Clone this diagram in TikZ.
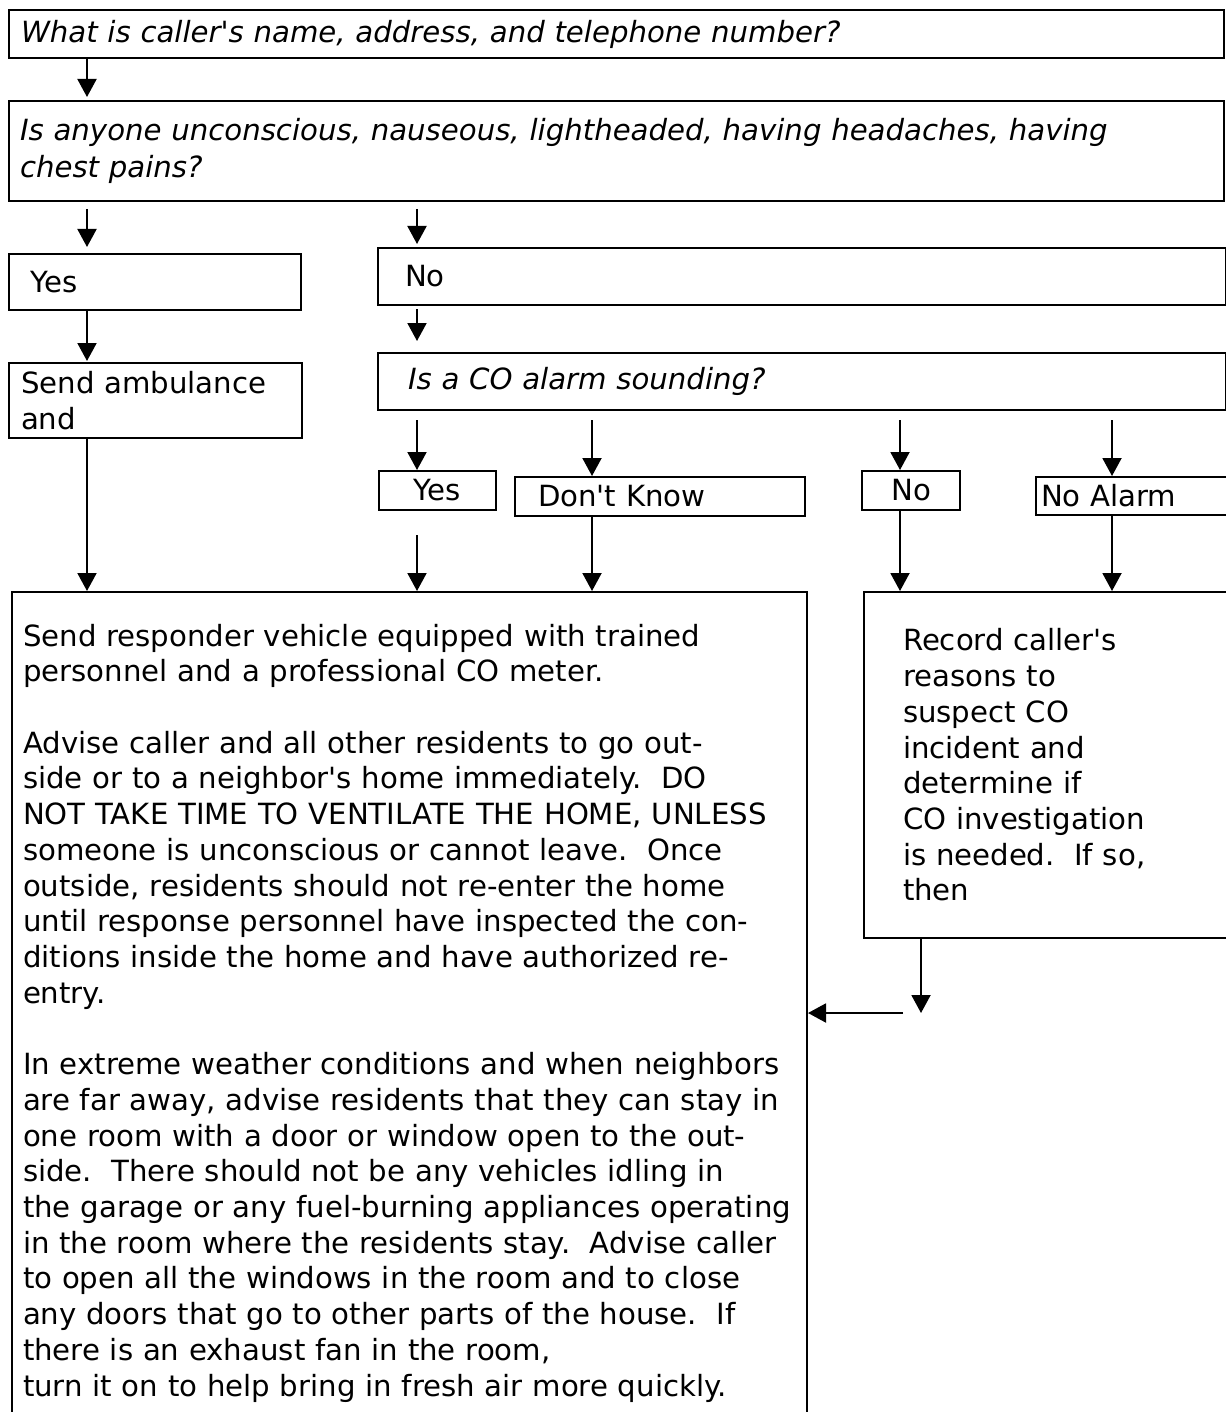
\documentclass[tikz,border=0pt]{standalone}
\usepackage{fontspec}
\setmainfont{DejaVu Sans}[Ligatures=TeXOff]
\usepackage{tikz}
\usetikzlibrary{arrows.meta}
\tikzset{
  box/.style={draw, rectangle, line width=1pt, anchor=north west, align=left, inner ysep=0pt, font=\fontsize{14.6}{17.86}\selectfont\frenchspacing},
  question/.style={box, font=\fontsize{14.6}{18.4}\selectfont\itshape\frenchspacing},
  tag/.style={box, align=center, inner xsep=0pt},
  arrow/.style={-{Triangle[length=9pt,width=9.5pt]}, line width=1pt}
}

\begin{document}
\begin{tikzpicture}[x=0.5pt,y=-0.5pt]
  \useasboundingbox (0,0) rectangle (1225,1412);
  % columns of the arrows
  \coordinate (colA) at (87,0);
  \coordinate (colB) at (417,0);
  \coordinate (colC) at (592,0);
  \coordinate (colD) at (900,0);
  \coordinate (colE) at (1112,0);
  \coordinate (colF) at (921,0);
  \node[question,text width=595.5pt,inner xsep=6pt,minimum height=24pt] (caller) at (8,9) {What is caller's name, address, and telephone number?};
  \node[question,text width=596.5pt,inner xsep=5.5pt,minimum height=50pt] (symptoms) at (8,100) {Is anyone unconscious, nauseous, lightheaded, having headaches, having\\chest pains?};
  \node[box,text width=124pt,inner xsep=11pt,minimum height=28pt] (yesA) at (8,253) {Yes};
  \node[box,text width=397pt,inner xsep=13.5pt,minimum height=28.5pt] (noA) at (377,247) {No};
  \node[box,text width=134.5pt,inner xsep=6pt,minimum height=37.5pt] (amb) at (8,362) {Send ambulance\\and};
  \node[question,text width=394pt,inner xsep=15pt,minimum height=28.5pt] (alarm) at (377,352) {Is a CO alarm sounding?};
  \node[tag,minimum width=58.5pt,minimum height=19.5pt] (yesB) at (378,470) {Yes};
  \node[box,text width=122pt,inner xsep=11.5pt,minimum height=19.5pt] (dk) at (514,476) {Don't Know};
  \node[tag,minimum width=49pt,minimum height=19.5pt] (noB) at (861,470) {No};
  \node[box,text width=91.5pt,inner xsep=2.5pt,minimum height=19pt] (noalarm) at (1035,476) {No Alarm};
  \node[box,text width=386.5pt,inner xsep=5.5pt,minimum height=421pt] (big) at (11,591) {Send responder vehicle equipped with trained\\
    personnel and a professional CO meter.\\[17.86pt]
    Advise caller and all other residents to go out-\\
    side or to a neighbor's home immediately.~ DO\\
    NOT TAKE TIME TO VENTILATE THE HOME, UNLESS\\
    someone is unconscious or cannot leave.~ Once\\
    outside, residents should not re-enter the home\\
    until response personnel have inspected the con-\\
    ditions inside the home and have authorized re-\\
    entry.\\[17.86pt]
    In extreme weather conditions and when neighbors\\
    are far away, advise residents that they can stay in\\
    one room with a door or window open to the out-\\
    side.~ There should not be any vehicles idling in\\
    the garage or any fuel-burning appliances operating\\
    in the room where the residents stay.~ Advise caller\\
    to open all the windows in the room and to close\\
    any doors that go to other parts of the house.~ If\\
    there is an exhaust fan in the room,\\
    turn it on to help bring in fresh air more quickly.};
  \node[box,text width=143.5pt,inner xsep=19.5pt,minimum height=173pt] (rec) at (863,591) {Record caller's\\reasons to\\suspect CO\\incident and\\determine if\\CO investigation\\is needed.~ If so,\\then};
  \coordinate (recEnd) at (921,1013);
  \coordinate (backStart) at (903,1013);
  \draw[arrow,shorten >=1.5pt] (colA |- caller.south) -- (colA |- symptoms.north);
  \draw[arrow,shorten <=3.5pt,shorten >=3pt] (colA |- symptoms.south) -- (colA |- yesA.north);
  \draw[arrow,shorten <=3.5pt,shorten >=1.5pt] (colB |- symptoms.south) -- (colB |- noA.north);
  \draw[arrow,shorten >=0.5pt] (colA |- yesA.south) -- (colA |- amb.north);
  \draw[arrow,shorten <=1.5pt,shorten >=5.5pt] (colB |- noA.south) -- (colB |- alarm.north);
  \draw[arrow,shorten <=4.5pt] (colB |- alarm.south) -- (colB |- yesB.north);
  \draw[arrow,shorten <=4.5pt] (colC |- alarm.south) -- (colC |- dk.north);
  \draw[arrow,shorten <=4.5pt] (colD |- alarm.south) -- (colD |- noB.north);
  \draw[arrow,shorten <=4.5pt] (colE |- alarm.south) -- (colE |- noalarm.north);
  \draw[arrow] (colA |- amb.south) -- (colA |- big.north);
  \draw[arrow,shorten <=12pt] (colB |- yesB.south) -- (colB |- big.north);
  \draw[arrow] (colC |- dk.south) -- (colC |- big.north);
  \draw[arrow] (colD |- noB.south) -- (colD |- rec.north);
  \draw[arrow] (colE |- noalarm.south) -- (colE |- rec.north);
  \draw[arrow] (colF |- rec.south) -- (recEnd);
  \draw[arrow] (backStart) -- (backStart -| big.east);
\end{tikzpicture}
\end{document}
